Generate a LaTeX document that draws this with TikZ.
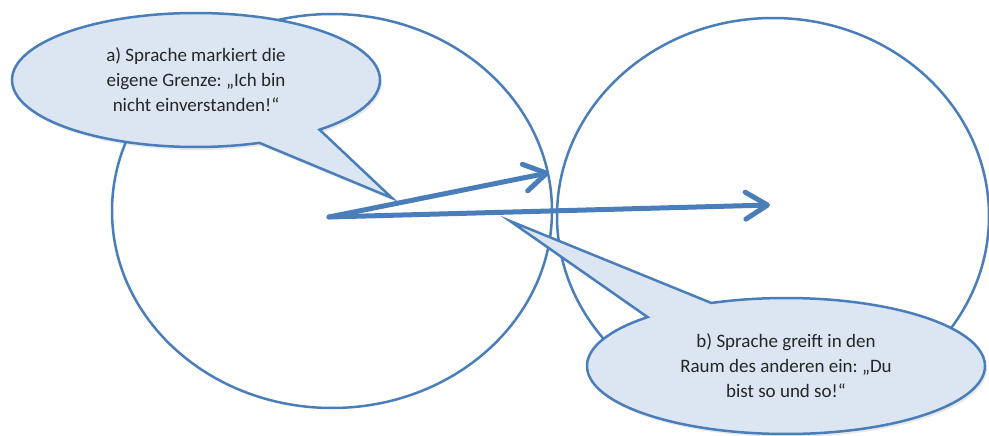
\documentclass[tikz,border=0pt]{standalone}
\usepackage{fontspec}
\setmainfont{Carlito}
\usetikzlibrary{shapes.geometric,shapes.callouts,arrows.meta,shadows}
\definecolor{rimblue}{HTML}{4A7EBB}
\definecolor{bubblefill}{HTML}{DCE6F2}
\frenchspacing
\tikzset{
  space/.style={ellipse,draw=rimblue,line width=2.5pt,inner sep=0pt},
  bubble/.style={ellipse callout,draw=rimblue,fill=bubblefill,line width=2.5pt,
    callout pointer arc=22,inner sep=0pt,align=center,text=black!85,
    font=\fontsize{19}{25}\selectfont,
    drop shadow={shadow xshift=2pt,shadow yshift=-3pt,opacity=0.18}},
  speech/.style={draw=rimblue,line width=5pt,line cap=round,line join=round,
    -{Straight Barb[length=22pt,width=27pt,line cap=round,line join=round]}}
}
\begin{document}
\begin{tikzpicture}[x=1pt,y=-1pt]
\useasboundingbox (0,0) rectangle (989,436);

%the two persons
\node[space,minimum width=440pt,minimum height=394pt] at (332,211)(self){};
\node[space,minimum width=432pt,minimum height=396pt] at (773,216)(other){};

\coordinate (origin) at (329,217);
\coordinate (aim) at (770,205);
\coordinate (tipa) at (392,198);
\coordinate (tipb) at (510,221);

%speech bubbles
\node[bubble,minimum width=368pt,minimum height=134pt,callout absolute pointer={(tipa)}]
  at (196,80)(limit){a) Sprache markiert die\\eigene Grenze: „Ich bin\\nicht einverstanden!“};
\node[bubble,minimum width=398pt,minimum height=136pt,callout absolute pointer={(tipb)}]
  at (786,366)(intrude){b) Sprache greift in den\\Raum des anderen ein: „Du\\bist so und so!“};

%arrows
\draw[speech] (origin) -- (self.10.5);
\draw[speech] (origin) -- (aim);

\end{tikzpicture}
\end{document}
